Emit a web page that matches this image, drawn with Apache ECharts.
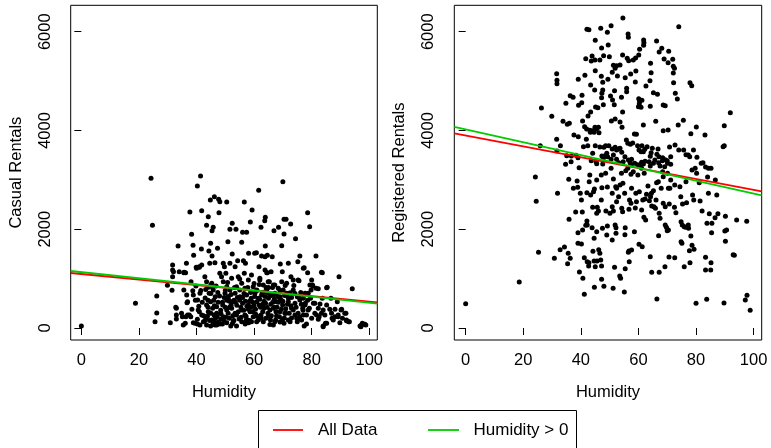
<!DOCTYPE html>
<html><head><meta charset="utf-8">
<script src="https://cdn.jsdelivr.net/npm/echarts@6/dist/echarts.min.js"></script>
<style>html,body{margin:0;padding:0;background:#fff}#c{width:771px;height:448px}</style>
</head><body><div id="c"></div>
<script>
const xTicks = [0, 20, 40, 60, 80, 100];
const yTicks = [0, 2000, 4000, 6000];
const legendNames = ['All Data', 'Humidity > 0'];
const xTitle = 'Humidity';
const yTitles = ['Casual Rentals', 'Registered Rentals'];

// Casual rentals vs humidity [humidity, rentals]
const casualPoints = [
[0,40],[18.8,500],[24.2,3031],[24.7,2079],[25.6,128],[26.2,304],[26.2,648],[29.9,864],[30.9,108],[31.5,763],
[41.4,3078],[40.3,2876],[70.0,2963],[61.6,2788],[46.2,2660],[44.8,2592],[47.7,2605],[48.1,2558],[50.5,2552],[56.6,2552],
[37.7,2349],[41.8,2376],[47.8,2336],[59.3,2390],[78.6,2336],[44.1,2255],[63.9,2241],[63.7,2174],[52.4,2120],[70.4,2200],
[71.1,2200],[43.5,2079],[45.8,2039],[45.4,1971],[51.6,1998],[53.7,1998],[56.0,1937],[57.4,1937],[58.7,2147],[62.4,2039],
[68.5,2039],[66.9,1971],[72.7,2106],[79.3,2052],[38.3,1897],[50.9,1748],[55.7,1735],[44.9,1715],[70.4,1904],[74.4,1809],
[69.6,1667],[33.6,1661],[38.8,1674],[47.3,1613],[41.7,1600],[44.3,1559],[39.0,1472],[45.4,1458],[52.4,1499],[60.8,1526],
[60.2,1512],[58.1,1512],[63.9,1661],[62.6,1458],[63.8,1445],[64.6,1472],[66.3,1445],[75.9,1458],[81.5,1458],[75.2,1343],
[36.5,1310],[31.7,1276],[39.9,1229],[40.9,1242],[41.8,1276],[44.6,1310],[46.4,1323],[49.3,1310],[49.7,1242],[51.6,1310],
[54.3,1364],[56.3,1364],[57.0,1310],[53.4,1242],[61.7,1242],[64.4,1121],[69.1,1296],[71.9,1310],[77.1,1208],[78.6,1121],
[83.7,1121],[89.5,1040],[94.1,797],[85.4,824],[80.4,851],
[31.7,1175],[31.7,1040],[32.8,418],[33.0,263],[34.8,297],[35.6,1121],[36.2,1121],[35.6,770],[36.6,668],[36.7,513],
[36.3,230],[37.5,263],[38.0,230],[38.1,938],[38.7,756],[38.9,668],[39.8,850],[40.0,1208],[41.0,1229],[40.4,567],
[41.2,702],[40.6,365],[41.8,263],[40.3,175],[39.5,95],[32.0,1140],[34.0,1140],[35.7,1130],[33.0,398],[33.0,182],
[35.1,230],[36.9,263],[36.9,533],
[42.9,1040],[43.5,938],[44.1,824],[45.3,905],[44.4,702],[45.8,770],[46.5,635],[44.9,533],[43.5,466],[45.6,398],
[47.0,432],[44.1,331],[46.1,263],[47.2,230],[43.3,196],[45.3,162],[46.4,61],[47.6,128],[48.1,1107],[48.7,1040],
[49.3,938],[50.5,837],[51.6,770],[49.9,702],[51.0,601],[52.2,533],[49.1,466],[50.5,365],[52.2,398],[53.4,297],
[49.3,230],[51.4,196],[52.8,149],[53.9,263],[53.4,702],[53.9,837],[50.2,1107],[52.2,1006],[54.5,1040],
[55.7,905],[56.8,803],[55.1,635],[57.4,668],[56.0,500],[58.0,466],[55.7,365],[58.6,331],[56.8,263],[59.7,230],
[57.4,175],[59.1,128],[58.0,972],[59.7,837],[60.3,702],[60.9,533],[56.6,1107],[59.1,1073],
[62.0,972],[63.2,871],[64.4,770],[62.6,668],[65.0,601],[61.8,466],[63.4,398],[65.5,365],[62.4,263],[64.1,196],
[65.7,162],[61.5,162],[65.3,938],[64.6,1121],
[66.7,871],[68.4,803],[67.2,702],[69.0,635],[70.1,770],[67.8,533],[69.9,466],[66.7,398],[69.0,331],[70.7,297],
[67.8,243],[69.9,175],[71.9,162],[71.3,905],[72.5,716],[71.9,601],
[73.6,770],[75.0,635],[75.9,567],[74.2,500],[77.1,601],[73.6,365],[75.3,297],[76.9,398],[74.8,196],[76.5,162],
[78.2,263],[73.6,972],[75.6,959],
[78.8,702],[79.6,601],[80.6,500],[79.2,398],[81.1,297],[82.9,486],[84.0,365],[82.6,230],[84.6,263],[83.7,601],
[85.2,466],[80.3,871],[82.3,797],
[86.3,378],[86.9,297],[88.1,230],[89.2,263],[90.7,196],[91.9,297],[90.4,378],[88.9,533],[92.1,149],[93.1,128],
[87.5,162],[89.8,108],
[35.4,61],[36.1,95],[38.9,108],[40.3,81],[41.2,61],[42.4,128],[43.5,61],[44.9,41],[45.8,108],[47.0,61],
[48.1,81],[50.5,108],[51.9,41],[53.9,41],[55.7,128],[56.9,81],[58.1,108],[60.9,128],[63.2,128],[66.7,61],
[67.2,128],[70.4,95],[72.5,128],[75.0,128],[77.4,41],[78.2,81],[82.3,176],[84.0,41],[85.2,95],[92.8,128],
[96.8,41],[97.3,61],[97.9,81],[98.8,61],
[42.0,520],[43.0,610],[44.0,420],[45.0,700],[46.0,560],[47.0,300],[48.0,650],[49.0,520],[50.0,420],[51.0,300],
[52.0,680],[53.0,560],[54.0,460],[55.0,770],[56.0,620],[57.0,540],[58.0,380],[59.0,600],[60.0,450],[61.0,760],
[62.0,580],[63.0,330],[64.0,500],[65.0,700],[66.0,250],[67.0,580],[68.0,420],[69.0,760],[70.0,540],[71.0,390],
[41.5,760],[43.8,240],[46.8,850],[48.6,180],[50.8,920],[52.6,250],[54.8,180],[57.8,820],[59.6,330],[61.8,880],
[63.8,640],[65.8,480],[67.6,330],[69.4,560],[71.6,480],[73.0,620],[74.6,420],[76.2,720],[77.8,500],[79.8,770],
[40.8,440],[43.2,780],[45.6,820],[47.4,720],[49.6,620],[51.4,540],[53.2,820],[55.4,420],[57.2,240],[58.8,720],
[60.6,280],[62.8,720],[64.8,300],[66.4,820],[68.2,640],[70.6,660],[72.2,300],[73.8,860],[75.8,230],[77.0,360],
[38.4,380],[39.6,560],[44.6,150],[46.2,450],[48.4,360],[50.2,220],[52.0,460],[54.2,620],[56.4,360],[58.4,540],
[60.2,640],[62.2,420],[64.2,820],[66.0,660],[68.8,230],[70.8,860],[72.8,450],[74.2,700],[76.4,480],[78.6,560],
[85.2,817],[86.7,601],[83.4,1128],[77.4,1222],[88.1,378],[90.2,365],[91.5,297],[89.2,230],[87.1,196],[92.1,162],
[97.6,95],[97.1,27],[98.5,75],[84.8,95],[84.0,27],[83.4,297],[81.7,263],[82.3,398],[80.0,196],[81.1,500],
[78.8,365],[77.1,263],[77.7,466],[75.3,182],[74.2,263],[75.9,601],[73.0,398],[71.9,533],[71.3,702],[77.7,702],
[79.4,871],[81.5,803],[80.0,972],[75.3,972],[72.8,1040],[69.8,1141],[65.9,1141],[63.8,1175],[62.0,1006],[64.9,938],
[67.2,871],[69.6,938],[60.9,770],[63.8,736],[66.7,668],[69.0,601],
[41,330],[42.5,250],[44,560],[45,300],[46,120],[47.5,520],[48.5,290],[49.5,150],[50.5,560],[51.5,420],
[52.5,90],[53.5,520],[54.5,330],[55.5,220],[56.5,700],[57.5,440],[58.5,150],[59.5,520],[60.5,380],[61.5,600],
[62.5,200],[63.5,540],[64.5,420],[65.5,70],[66.5,520],[67.5,160],[68.5,520],[69.5,380],[70.5,200],[71.5,660],
[43,150],[46.5,190],[49,80],[51,640],[53,150],[55,560],[57,120],[59,420],[61,240],[63,480],
[65,240],[67,420],[69,120],[71,300],[73,200],[45,870],[50,760],[55,990],[60,900],[65,820]
];

// Registered rentals vs humidity [humidity, rentals]
const registeredPoints = [
[54.6,6278],[42.1,6048],[42.8,6041],[46.9,6068],[50.5,6122],[49.2,5987],[74.0,6102],[56.4,5954],[56.5,5886],[61.8,5832],
[61.9,5778],[61.8,5724],[66.3,5812],[45.0,5825],[47.2,5670],[49.5,5731],[68.1,5663],[67.2,5589],[70.5,5603],[41.7,5454],
[43.6,5407],[43.9,5508],[44.9,5427],[46.6,5427],[47.9,5515],[49.9,5495],[54.5,5528],[56.1,5461],[56.6,5414],[58.2,5427],
[59.0,5468],[60.1,5528],[60.4,5643],[64.2,5360],[68.9,5447],[70.3,5373],[71.9,5441],[72.1,5299],[51.3,5319],[52.4,5312],
[53.6,5326],
[31.6,5150],[31.7,5015],[31.7,4948],[39.1,5036],[41.4,5117],[45.0,5211],[47.1,5096],[47.6,4975],[49.4,5036],[50.9,5177],
[51.9,5258],[52.7,5103],[55.4,5069],[57.3,5144],[59.1,5204],[58.9,4982],[64.4,5171],[64.0,5009],[72.1,5164],[72.2,4968],
[72.5,5258],[77.9,4968],[78.5,4907],[43.4,4921],[44.8,4820],[47.6,4820],[47.3,4752],[47.2,4664],[50.3,4698],[51.7,4806],
[51.0,4617],[51.6,4523],[54.1,4671],[55.9,4853],[55.9,4786],[60.1,4644],[60.4,4590],[61.2,4610],[60.0,4482],[62.6,4901],
[65.2,4766],[66.6,4732],[72.8,4752],[73.5,4637],[36.3,4705],[37.3,4671],[34.8,4550],[40.4,4712],[40.3,4563],
[26.3,4455],[29.9,4286],[33.8,4185],[35.3,4124],[39.2,4509],[40.6,4192],[42.5,4293],[43.4,4374],[45.1,4475],[45.9,4462],
[47.8,4523],[50.6,4192],[51.9,4232],[53.6,4172],[54.5,4374],[54.3,4064],[60.3,4543],[60.9,4469],[64.1,4489],[61.7,4111],
[66.0,4185],[68.6,4516],[69.3,4502],[75.6,4205],[73.8,4111],[68.6,3996],[70.3,4010],[80.1,4070],[89.8,4097],[91.9,4361],
[83.1,3908],[78.2,3935],[41.3,4077],[42.0,4030],[43.1,4003],[44.0,3996],[44.9,4064],[45.4,4023],[46.1,4064],[44.6,3962],
[46.3,3956],[43.3,3962],[39.1,3875],[37.6,3908],[41.9,3821],[31.6,3821],[36.0,4145],[32.9,3692],[31.7,3584],
[25.9,3692],[40.9,3672],[42.4,3692],[45.0,3692],[46.6,3665],[48.0,3659],[48.6,3692],[49.7,3692],[50.9,3625],[51.9,3659],
[52.4,3605],[53.1,3625],[53.6,3638],[54.2,3557],[55.8,3807],[56.3,3740],[57.2,3719],[58.0,3746],[58.6,3929],[59.3,3922],
[59.7,3692],[61.2,3692],[60.2,3605],[60.9,3571],[61.7,3571],[62.2,3618],[63.0,3672],[64.8,3638],[64.4,3551],[64.1,3476],
[66.8,3625],[66.4,3517],[67.1,3470],[68.4,3449],[69.3,3409],[70.0,3389],[70.8,3665],[71.2,3470],[72.7,3706],[74.0,3605],
[75.7,3605],[76.5,3510],[77.3,3503],[77.8,3470],[79.1,3605],[80.3,3456],[81.8,3335],[82.4,3348],[89.4,3672],[89.8,3692],
[83.3,3260],[84.3,3233],[35.1,3490],[36.7,3483],[38.3,3497],[36.6,3368],[39.0,3449],[44.1,3537],[43.6,3389],[45.3,3368],
[45.5,3328],[47.3,3483],[47.8,3436],[48.4,3490],[49.0,3537],[49.3,3470],[50.5,3416],[51.3,3503],[52.4,3416],[53.2,3348],
[54.7,3368],[55.3,3470],[56.5,3402],[57.1,3348],[57.5,3308],[57.6,3416],[58.7,3335],[59.7,3308],[60.5,3301],[61.1,3355],
[61.7,3321],[62.3,3375],[63.7,3368],[64.1,3281],[65.2,3335],[65.7,3402],[67.0,3348],[67.5,3281],[68.3,3389],[69.1,3267],
[70.1,3335],[71.2,3314],[34.7,3314],[39.4,3247],[47.6,3321],[50.5,3233],
[24.2,3058],[24.5,2565],[31.9,2727],[35.8,3011],[38.7,2977],[37.4,2828],[38.9,2849],[39.8,2727],[42.1,2741],[43.4,2693],
[40.2,2592],[43.1,3098],[42.9,2963],[44.7,2815],[44.4,2761],[45.5,2997],[47.1,3098],[47.3,2842],[48.6,3132],[49.2,2855],
[50.9,2727],[51.3,3017],[52.1,2862],[52.4,2828],[53.6,2896],[54.6,2930],[53.1,2660],[55.2,2727],[54.1,3132],[55.6,3186],
[56.3,3233],[57.4,3112],[57.6,2828],[56.9,2592],[58.2,3166],[59.8,3098],[59.1,2727],[60.3,2761],[61.1,3233],[62.0,3132],
[63.3,2876],[61.5,2592],[62.3,2612],[62.8,2707],[64.5,2727],[65.2,2781],[64.2,2660],[66.3,2943],[66.9,2963],[66.1,2592],
[67.9,2828],[68.4,3166],[68.6,3065],[70.1,3132],[70.4,2828],[70.9,2828],[71.2,2997],[72.6,2896],[74.4,2862],[74.7,2660],
[76.5,2963],[78.8,2693],[78.6,3200],[79.7,3233],[80.2,3132],[81.1,2943],[84.0,3058],[85.2,3233],[86.7,2997],[87.2,2693],
[84.3,2727],
[38.2,2349],[35.9,2201],[40.5,2349],[42.1,2167],[42.2,2086],[43.9,2032],[44.1,2444],[45.7,2444],[46.1,2369],[47.1,2592],
[48.7,2369],[50.9,2457],[51.3,2369],[52.4,2558],[54.2,2423],[56.7,2403],[57.4,2525],[59.3,2558],[61.1,2390],[61.9,2241],
[62.5,2187],[64.6,2471],[65.4,2457],[65.9,2423],[67.2,2322],[67.5,2221],[68.6,2525],[69.3,2457],[69.3,2086],[69.7,2039],
[70.4,1985],[70.7,2511],[72.5,2444],[73.0,2336],[74.8,2153],[75.2,2086],[75.9,2052],[76.4,2039],[76.7,2538],[77.3,2086],
[77.4,2018],[79.2,2592],[81.4,2572],[82.1,2369],[84.6,2315],[86.6,2234],[87.6,2315],[90.2,2261],[94.1,2187],[97.6,2160],
[85.5,2120],[75.3,2511],[49.2,2066],[51.9,2086],[52.2,2032],[55.4,2032],[45.5,2322],[47.5,2018],[50.1,2322],[54.5,2355],
[58.9,2430],[63.8,2579],
[39.0,1931],[40.6,1985],[39.0,1715],[40.2,1701],[41.7,2079],[44.6,1816],[45.5,1951],[49.0,1883],[50.9,1782],[52.2,1917],
[55.3,1890],[58.6,1951],[61.3,1647],[60.2,1694],[67.0,1870],[70.0,1971],[74.8,1748],[75.1,1715],[78.2,1863],[77.7,1566],
[79.3,1593],[78.6,1674],[83.8,2120],[85.4,1931],[90.0,1964],[90.6,1985],[90.2,1755],[92.9,1485],[93.3,1472],[32.8,1586],
[34.3,1640],[35.6,1512],[36.3,1411],[35.4,1303],[30.8,1411],[25.3,1532],[41.2,1424],[42.2,1343],[42.7,1256],[42.8,1323],
[44.2,1553],[44.6,1357],[45.0,1242],[46.2,1586],[46.6,1512],[46.9,1377],[47.2,1256],[45.6,1357],[51.7,1229],[55.4,1202],
[56.5,1532],[56.7,1559],[57.6,1580],[56.8,1343],[64.1,1445],[70.6,1438],[72.6,1424],[75.9,1242],[77.9,1323],[83.3,1431],
[85.2,1323],[85.1,1175],
[18.6,932],[39.5,1134],[40.7,1006],[41.2,682],[44.7,824],[48.0,844],[47.2,986],[51.2,803],[53.5,1053],[53.8,1006],
[55.1,729],[64.6,1127],[67.2,1127],[69.2,1242],[66.4,587],[80.0,500],[83.7,581],[89.7,506],[97.1,567],[97.7,662],
[98.8,358],[83.3,1175],[0,493]
];

// Least-squares lines [intercept, slope]
const casualFit = { all: [1093, -5.58], pos: [1131, -6.21] };
const registeredFit = { all: [3899, -11.0], pos: [4020, -12.96] };

const xRanges = [[-3.7, 102.8], [-3.95, 102.8]];
const yRange = [-243, 6535];

const F = "'Liberation Sans', Arial, Helvetica, sans-serif";
const FS = 16.5;
const RED = '#ff0000', GREEN = '#00cc00';

function fitLine(c, r) { return [[r[0], c[0] + c[1] * r[0]], [r[1], c[0] + c[1] * r[1]]]; }

const grids = [
  { left: 70.7, top: 5.3, width: 306.6, height: 334.7 },
  { left: 454.3, top: 5.3, width: 307.4, height: 334.7 }
].map(g => Object.assign(g, { show: true, borderColor: '#000', borderWidth: 1, backgroundColor: 'transparent', outerBoundsMode: 'none', containLabel: false }));

const xAxes = [0, 1].map(i => ({
  gridIndex: i, type: 'value', min: xRanges[i][0], max: xRanges[i][1],
  axisLine: { show: false }, splitLine: { show: false },
  axisTick: { show: true, customValues: xTicks, length: 7, lineStyle: { color: '#000', width: 1 } },
  axisLabel: { customValues: xTicks, margin: 12, color: '#000', fontSize: FS, fontFamily: F, formatter: v => String(v) },
  name: xTitle, nameLocation: 'middle', nameGap: 44,
  nameTextStyle: { color: '#000', fontSize: FS, fontFamily: F }
}));
const yAxes = [0, 1].map(i => ({
  gridIndex: i, type: 'value', min: yRange[0], max: yRange[1],
  axisLine: { show: false }, splitLine: { show: false },
  axisTick: { show: true, customValues: yTicks, length: 7, lineStyle: { color: '#000', width: 1 } },
  axisLabel: { customValues: yTicks, rotate: 90, margin: 17, color: '#000', fontSize: FS, fontFamily: F, formatter: v => String(v) },
  name: yTitles[i], nameLocation: 'middle', nameRotate: 90, nameGap: 46,
  nameTextStyle: { color: '#000', fontSize: FS, fontFamily: F }
}));

const panels = [[casualPoints, casualFit], [registeredPoints, registeredFit]];
const series = [];
panels.forEach(([pts, fit], i) => {
  series.push({ type: 'scatter', xAxisIndex: i, yAxisIndex: i, data: pts, symbolSize: 5, itemStyle: { color: '#000', opacity: 1 }, silent: true });
  series.push({ type: 'line', name: legendNames[0], xAxisIndex: i, yAxisIndex: i, data: fitLine(fit.all, xRanges[i]), symbol: 'none', lineStyle: { color: RED, width: 1.8 }, z: 3 });
  series.push({ type: 'line', name: legendNames[1], xAxisIndex: i, yAxisIndex: i, data: fitLine(fit.pos, xRanges[i]), symbol: 'none', lineStyle: { color: GREEN, width: 1.8 }, z: 3 });
});

const chart = echarts.init(document.getElementById('c'), null, { renderer: 'canvas' });
chart.setOption({
  animation: false,
  backgroundColor: '#fff',
  grid: grids, xAxis: xAxes, yAxis: yAxes, series: series,
  graphic: [
    { type: 'rect', shape: { x: 258.5, y: 410.5, width: 318, height: 45 }, style: { fill: '#fff', stroke: '#000', lineWidth: 1 } },
    { type: 'line', shape: { x1: 273, y1: 430, x2: 303, y2: 430 }, style: { stroke: RED, lineWidth: 1.8 } },
    { type: 'text', x: 318, y: 430, style: { text: legendNames[0], fill: '#000', font: '17px ' + F, verticalAlign: 'middle', textAlign: 'left' } },
    { type: 'line', shape: { x1: 428, y1: 430, x2: 459, y2: 430 }, style: { stroke: GREEN, lineWidth: 1.8 } },
    { type: 'text', x: 473.5, y: 430, style: { text: legendNames[1], fill: '#000', font: '17px ' + F, verticalAlign: 'middle', textAlign: 'left' } }
  ]
});
</script></body></html>
